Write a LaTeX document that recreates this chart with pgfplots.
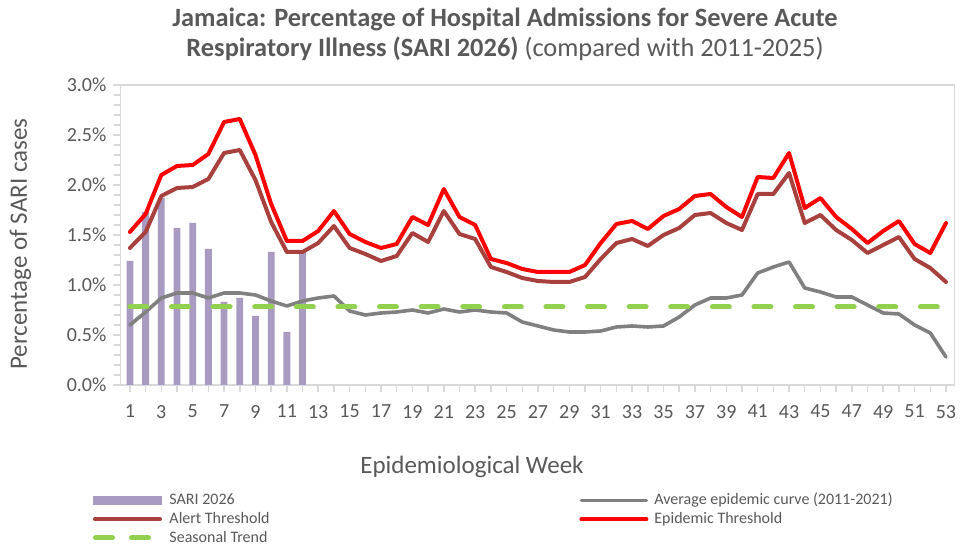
\documentclass[border=0pt]{standalone}
\usepackage{pgfplots}
\pgfplotsset{compat=1.18}
\usepackage{pgfplotstable}
\usepackage{fontspec}
\setmainfont{Carlito}
\definecolor{txt}{RGB}{89,89,89}
\definecolor{axisgray}{RGB}{217,217,217}
\definecolor{sari}{RGB}{168,154,192}
\definecolor{alert}{RGB}{168,64,62}
\definecolor{avg}{RGB}{128,128,128}
\definecolor{trend}{RGB}{146,208,80}

\pgfplotstableread{
week sari
1 1.24
2 1.73
3 1.87
4 1.57
5 1.62
6 1.36
7 0.83
8 0.87
9 0.69
10 1.33
11 0.53
12 1.33
}\sariData

\pgfplotstableread{
week avg alert epi trend
1 0.60 1.37 1.53 0.78
2 0.73 1.53 1.71 0.78
3 0.87 1.89 2.10 0.78
4 0.92 1.97 2.19 0.78
5 0.92 1.98 2.20 0.78
6 0.87 2.06 2.31 0.78
7 0.92 2.32 2.63 0.78
8 0.92 2.35 2.66 0.78
9 0.90 2.05 2.30 0.78
10 0.84 1.63 1.81 0.78
11 0.79 1.33 1.44 0.78
12 0.84 1.33 1.44 0.78
13 0.87 1.42 1.54 0.78
14 0.89 1.59 1.74 0.78
15 0.74 1.37 1.51 0.78
16 0.70 1.31 1.43 0.78
17 0.72 1.24 1.37 0.78
18 0.73 1.29 1.41 0.78
19 0.75 1.52 1.68 0.78
20 0.72 1.43 1.60 0.78
21 0.76 1.74 1.96 0.78
22 0.73 1.51 1.68 0.78
23 0.75 1.46 1.60 0.78
24 0.73 1.18 1.26 0.78
25 0.72 1.13 1.22 0.78
26 0.63 1.07 1.16 0.78
27 0.59 1.04 1.13 0.78
28 0.55 1.03 1.13 0.78
29 0.53 1.03 1.13 0.78
30 0.53 1.08 1.20 0.78
31 0.54 1.26 1.42 0.78
32 0.58 1.42 1.61 0.78
33 0.59 1.46 1.64 0.78
34 0.58 1.39 1.56 0.78
35 0.59 1.50 1.69 0.78
36 0.68 1.57 1.76 0.78
37 0.80 1.70 1.89 0.78
38 0.87 1.72 1.91 0.78
39 0.87 1.62 1.78 0.78
40 0.90 1.55 1.68 0.78
41 1.12 1.91 2.08 0.78
42 1.18 1.91 2.07 0.78
43 1.23 2.12 2.32 0.78
44 0.97 1.62 1.77 0.78
45 0.93 1.70 1.87 0.78
46 0.88 1.55 1.68 0.78
47 0.88 1.45 1.56 0.78
48 0.80 1.32 1.42 0.78
49 0.72 1.40 1.54 0.78
50 0.71 1.48 1.64 0.78
51 0.60 1.26 1.41 0.78
52 0.52 1.17 1.32 0.78
53 0.28 1.03 1.62 0.78
}\lineData

\begin{document}
\begin{tikzpicture}
\useasboundingbox (-60.25pt,-80pt) rectangle (424.75pt,192.5pt);
\begin{axis}[
  at={(0pt,0pt)}, anchor=south west,
  scale only axis, width=416.9pt, height=150pt,
  xmin=0.4, xmax=53.53, ymin=0, ymax=3,
  axis line style={axisgray, line width=0.75pt},
  tick style={axisgray, line width=0.75pt},
  tick align=outside, tick pos=left,
  major tick length=3.5pt, minor tick length=3pt,
  xtick={1,...,53},
  xticklabels={1,,3,,5,,7,,9,,11,,13,,15,,17,,19,,21,,23,,25,,27,,29,,31,,33,,35,,37,,39,,41,,43,,45,,47,,49,,51,,53},
  ytick={0,0.5,1,1.5,2,2.5,3},
  yticklabels={0.0\%,0.5\%,1.0\%,1.5\%,2.0\%,2.5\%,3.0\%},
  minor y tick num=4,
  ticklabel style={font=\fontsize{10}{12}\selectfont, text=txt},
  xticklabel style={yshift=-3pt},
  clip=false,
  legend columns=2,
  legend cell align=left,
  legend style={
    at={(axis description cs:0,0)}, anchor=north west,
    xshift=-13.75pt, yshift=-53.5pt,
    draw=none, fill=none, inner sep=0pt, outer sep=0pt,
    font=\fontsize{8}{9.6}\selectfont, text=txt,
    column sep=0pt, row sep=0.75pt,
    nodes={inner xsep=2.67pt, inner ysep=0.5pt, text height=6pt, text depth=1.6pt},
    /tikz/every odd column/.append style={column sep=0.33pt},
  },
]
\addplot[ybar, bar width=3.4pt, fill=sari, draw=none,
  legend image code/.code={\fill[sari] (0pt,-2.25pt) rectangle (34.5pt,2.25pt);}]
  table[x=week, y=sari] {\sariData};
\addlegendentry{\makebox[202.3pt][l]{SARI 2026}}
\addplot[avg, line width=1.8pt, line join=round, line cap=round, no marks,
  legend image code/.code={\draw[avg, line width=1.8pt, line cap=round] (1pt,0pt) -- (33.5pt,0pt);}]
  table[x=week, y=avg] {\lineData};
\addlegendentry{Average epidemic curve (2011-2021)}
\addplot[alert, line width=2pt, line join=round, line cap=round, no marks,
  legend image code/.code={\draw[alert, line width=2pt, line cap=round] (1pt,0pt) -- (33.5pt,0pt);}]
  table[x=week, y=alert] {\lineData};
\addlegendentry{\makebox[202.3pt][l]{Alert Threshold}}
\addplot[red, line width=2pt, line join=round, line cap=round, no marks,
  legend image code/.code={\draw[red, line width=2pt, line cap=round] (1pt,0pt) -- (33.5pt,0pt);}]
  table[x=week, y=epi] {\lineData};
\addlegendentry{Epidemic Threshold}
\addplot[trend, line width=2.5pt, line cap=round, dash pattern=on 8.5pt off 12.3pt, no marks,
  legend image code/.code={\draw[trend, line width=2.5pt, line cap=round, dash pattern=on 8.5pt off 9.5pt] (1.25pt,0pt) -- (34pt,0pt);}]
  table[x=week, y=trend] {\lineData};
\addlegendentry{Seasonal Trend}
\end{axis}
\node[rotate=90, anchor=base, font=\fontsize{12.5}{15}\selectfont, text=txt] at (-46.75pt,70.5pt) {Percentage of SARI cases};
\node[anchor=base, font=\fontsize{12.5}{15}\selectfont, text=txt] at (175.75pt,-44.5pt) {Epidemiological Week};
\node[anchor=base, font=\fontsize{13.2}{16}\selectfont, text=txt] at (192.25pt,179pt) {\bfseries Jamaica: Percentage of Hospital Admissions for Severe Acute};
\node[anchor=base, font=\fontsize{13.2}{16}\selectfont, text=txt] at (192.25pt,164pt) {{\bfseries Respiratory Illness (SARI 2026)} (compared with 2011-2025)};
\end{tikzpicture}
\end{document}
